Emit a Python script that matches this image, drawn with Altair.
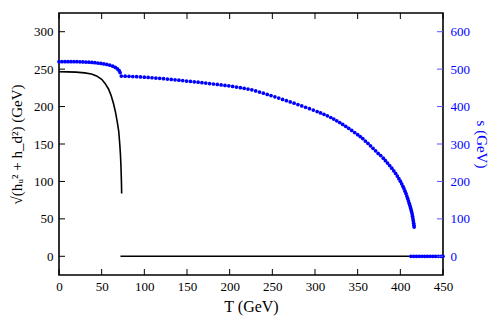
import altair as alt
import pandas as pd

# Black curve: sqrt(h_u^2 + h_d^2) vs T
T_h = [0, 10, 20, 30, 38, 44, 50, 54, 58, 61, 64, 66.5, 68.5, 70, 71.2, 72, 72.6, 73, 73.3, 73.4]
h = [246.5, 246.3, 246, 245, 243.5, 241, 236.5, 231, 223.5, 215, 203.5, 191, 178, 167, 150, 136, 121, 106, 93, 84]
T_h0 = [72, 450]
h0 = [0, 0]

# Blue dots: s vs T
T_s = [0, 3.5, 7, 10.5, 14, 17.5, 21, 24.5, 28, 31.5, 35, 38.5, 42, 45.5, 49, 52.5, 56, 59.5, 63, 66, 68.5, 70.5, 71.6,
       73, 77.5, 82, 86.5, 91, 95.5, 100, 104.5, 109, 113.5, 118, 122.5, 127, 131.5, 136, 140.5, 145, 149.5, 154,
       158.5, 163, 167.5, 172, 176.5, 181, 185.5, 190, 194.5, 199, 203.5, 208, 212.5, 217, 221.5, 226, 230.5, 235,
       239.5, 244, 248.5, 253, 257.5, 262, 266.5, 271, 275.5, 280, 284.5, 289, 293.5, 298, 302.5, 306.5, 310.5,
       314.5, 318.5, 322, 325.5, 329, 332.5, 336, 339.5, 343, 346.5, 350, 353, 356, 359, 362, 365, 368, 371, 374,
       377, 380, 382.5, 385, 387.5, 390, 392.3, 394.5, 396.5, 398.3, 400, 401.6, 403, 404.3, 405.5, 406.6, 407.6,
       408.6, 409.5, 410.4, 411.2, 411.9, 412.6, 413.2, 413.8, 414.3, 414.8, 415.2, 415.6, 415.9, 416.2]
s = [520, 520, 520, 520, 520, 520, 519.8, 519.6, 519.4, 519, 518.5, 518, 517.3, 516.4, 515.2, 513.8, 512.5, 510.5, 508, 504.5, 500.5, 496, 491,
     481.5, 481.1, 480.7, 480.2, 479.7, 479.1, 478.4, 477.7, 477, 476.2, 475.4, 474.5, 473.6, 472.6, 471.6, 470.5, 469.4, 468.3, 467.2,
     466.1, 465, 463.9, 462.7, 461.5, 460.3, 459.1, 457.9, 456.6, 455.3, 453.8, 452.2, 450.5, 448.7, 446.8, 444.7, 441.8, 438.8,
     435.7, 432.5, 429.3, 426, 422.6, 419.2, 415.8, 412.4, 409, 405.4, 401.8, 398.1, 394.4, 390.6, 386.7, 383, 379.2,
     375.2, 370.8, 366.5, 362, 357.3, 352.3, 347.1, 341.8, 336.3, 330.7, 325, 319.8, 314.4, 308, 301.8, 295.3, 288.6, 281.8, 274.8,
     269, 262, 255.5, 249, 242.3, 235.3, 228.3, 221.3, 214.3, 207.3, 200.5, 193.8, 187, 180.5, 174, 167.5, 161,
     154.5, 148, 141.5, 135.5, 130, 124.5, 119, 113, 107, 100.5, 94.5, 88.5, 83, 78]
T_s0 = [412.5, 415.7, 418.9, 422.1, 425.3, 428.5, 431.7, 434.9, 438.1, 441.3, 444.5, 447.7, 450]
s0 = [0] * len(T_s0)

x_ticks = [0, 50, 100, 150, 200, 250, 300, 350, 400, 450]
left_ticks = [0, 50, 100, 150, 200, 250, 300]
right_ticks = [0, 100, 200, 300, 400, 500, 600]

W, H = 384, 262
BLUE = "#0000ff"
FONT = "'Liberation Serif', 'DejaVu Serif', serif"
TL = 6

xs = alt.Scale(domain=[0, 450], nice=False, zero=False)
yl = alt.Scale(domain=[-25, 325], nice=False, zero=False)
yr = alt.Scale(domain=[-50, 650], nice=False, zero=False)

common = dict(ticks=False, domain=False, grid=False, labelFont=FONT, titleFont=FONT,
              labelFontSize=13, titleFontWeight="normal", labelFlush=False, labelOverlap=False)
x_axis = alt.Axis(values=x_ticks, labelPadding=5, title="T (GeV)", titleFontSize=16,
                  titlePadding=5, labelColor="black", titleColor="black", **common)
yl_axis = alt.Axis(values=left_ticks, labelPadding=6, title="√(hᵤ² + h_d²) (GeV)", titleFontSize=15,
                   titlePadding=9, labelColor="black", titleColor="black", **common)
yr_axis = alt.Axis(orient="right", values=right_ticks, labelPadding=7, labelColor=BLUE,
                   title="s (GeV)", titleColor=BLUE, titleFontSize=15, titlePadding=4, **common)

df_h = pd.DataFrame({"T": T_h + T_h0, "h": h + h0,
                     "seg": ["a"] * len(T_h) + ["b"] * len(T_h0)})
df_s = pd.DataFrame({"T": T_s + T_s0, "s": s + s0})
df_xt = pd.DataFrame({"T": x_ticks})
df_lt = pd.DataFrame({"h": left_ticks})
df_rt = pd.DataFrame({"s": right_ticks})

black = alt.Chart(df_h).mark_line(color="black", strokeWidth=1.6, clip=True).encode(
    x=alt.X("T:Q", scale=xs, axis=x_axis),
    y=alt.Y("h:Q", scale=yl, axis=yl_axis),
    detail="seg:N",
)

xt_bot = alt.Chart(df_xt).mark_rule(color="black", strokeWidth=1).encode(
    x=alt.X("T:Q", scale=xs, axis=x_axis), y=alt.value(H), y2=alt.value(H - TL))
xt_top = alt.Chart(df_xt).mark_rule(color="black", strokeWidth=1).encode(
    x=alt.X("T:Q", scale=xs, axis=x_axis), y=alt.value(0), y2=alt.value(TL))
lt = alt.Chart(df_lt).mark_rule(color="black", strokeWidth=1).encode(
    y=alt.Y("h:Q", scale=yl, axis=yl_axis), x=alt.value(0), x2=alt.value(TL))

left = alt.layer(black, xt_bot, xt_top, lt)

blue = alt.Chart(df_s).mark_circle(color=BLUE, size=14, opacity=1).encode(
    x=alt.X("T:Q", scale=xs, axis=x_axis),
    y=alt.Y("s:Q", scale=yr, axis=yr_axis),
)
rt = alt.Chart(df_rt).mark_rule(color="#5555ff", strokeWidth=1).encode(
    y=alt.Y("s:Q", scale=yr, axis=yr_axis), x=alt.value(W - TL), x2=alt.value(W))

right = alt.layer(blue, rt)

chart = alt.layer(left, right).resolve_scale(y="independent").properties(
    width=W, height=H,
    autosize=alt.AutoSizeParams(type="none"),
    padding={"left": 51, "top": 5, "right": 47, "bottom": 44},
).configure(
    font=FONT
).configure_view(
    stroke="black", strokeWidth=1.6
)

chart.save("out.html", embed_options={"renderer": "svg", "actions": False})
